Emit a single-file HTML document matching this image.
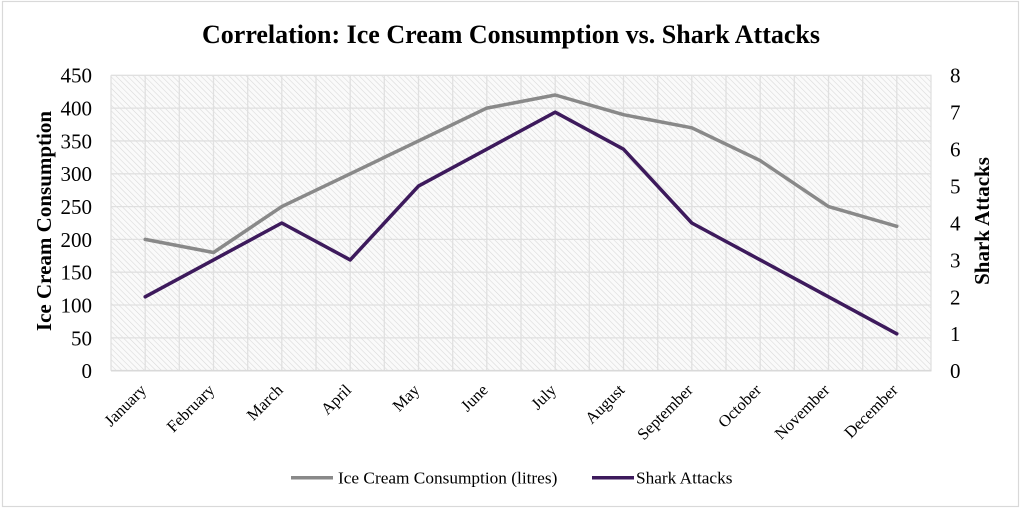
<!DOCTYPE html>
<html><head><meta charset="utf-8"><style>
html,body{margin:0;padding:0;background:#fff;}
svg{display:block;}
text{font-family:"Liberation Serif","Times New Roman",serif;fill:#000;}
</style></head><body>
<svg width="1022" height="508" viewBox="0 0 1022 508" xmlns="http://www.w3.org/2000/svg">
<defs>
<pattern id="hatch" patternUnits="userSpaceOnUse" width="4" height="4" patternTransform="rotate(-45)">
<rect width="4" height="4" fill="#fafafa"/>
<line x1="0" y1="0" x2="0" y2="4" stroke="#d8d8d8" stroke-width="1.1"/>
</pattern>
</defs>
<rect x="0" y="0" width="1022" height="508" fill="#fff"/>
<rect x="2.5" y="1.5" width="1016" height="505" fill="none" stroke="#d9d9d9" stroke-width="1.2"/>
<text x="511" y="43" font-size="26" font-weight="bold" text-anchor="middle">Correlation: Ice Cream Consumption vs. Shark Attacks</text>
<rect x="111" y="75.3" width="820.5" height="295.4" fill="url(#hatch)"/>
<g stroke="#e0e0e0" stroke-width="1.3">
<line x1="111" y1="75.3" x2="931.5" y2="75.3"/>
<line x1="111" y1="108.1" x2="931.5" y2="108.1"/>
<line x1="111" y1="140.95" x2="931.5" y2="140.95"/>
<line x1="111" y1="173.8" x2="931.5" y2="173.8"/>
<line x1="111" y1="206.6" x2="931.5" y2="206.6"/>
<line x1="111" y1="239.4" x2="931.5" y2="239.4"/>
<line x1="111" y1="272.2" x2="931.5" y2="272.2"/>
<line x1="111" y1="305.0" x2="931.5" y2="305.0"/>
<line x1="111" y1="337.9" x2="931.5" y2="337.9"/>
<line x1="111" y1="75.3" x2="111" y2="370.7"/>
<line x1="145.2" y1="75.3" x2="145.2" y2="370.7"/>
<line x1="179.3" y1="75.3" x2="179.3" y2="370.7"/>
<line x1="213.5" y1="75.3" x2="213.5" y2="370.7"/>
<line x1="247.7" y1="75.3" x2="247.7" y2="370.7"/>
<line x1="281.8" y1="75.3" x2="281.8" y2="370.7"/>
<line x1="316.0" y1="75.3" x2="316.0" y2="370.7"/>
<line x1="350.2" y1="75.3" x2="350.2" y2="370.7"/>
<line x1="384.3" y1="75.3" x2="384.3" y2="370.7"/>
<line x1="418.5" y1="75.3" x2="418.5" y2="370.7"/>
<line x1="452.7" y1="75.3" x2="452.7" y2="370.7"/>
<line x1="486.8" y1="75.3" x2="486.8" y2="370.7"/>
<line x1="521.0" y1="75.3" x2="521.0" y2="370.7"/>
<line x1="555.2" y1="75.3" x2="555.2" y2="370.7"/>
<line x1="589.3" y1="75.3" x2="589.3" y2="370.7"/>
<line x1="623.5" y1="75.3" x2="623.5" y2="370.7"/>
<line x1="657.7" y1="75.3" x2="657.7" y2="370.7"/>
<line x1="691.8" y1="75.3" x2="691.8" y2="370.7"/>
<line x1="726.0" y1="75.3" x2="726.0" y2="370.7"/>
<line x1="760.2" y1="75.3" x2="760.2" y2="370.7"/>
<line x1="794.3" y1="75.3" x2="794.3" y2="370.7"/>
<line x1="828.5" y1="75.3" x2="828.5" y2="370.7"/>
<line x1="862.7" y1="75.3" x2="862.7" y2="370.7"/>
<line x1="896.8" y1="75.3" x2="896.8" y2="370.7"/>
<line x1="931.0" y1="75.3" x2="931.0" y2="370.7"/>
</g>
<line x1="111" y1="370.7" x2="931.5" y2="370.7" stroke="#d9d9d9" stroke-width="1.6"/>
<g font-size="21" text-anchor="end">
<text x="92" y="82.7">450</text>
<text x="92" y="115.5">400</text>
<text x="92" y="148.4">350</text>
<text x="92" y="181.2">300</text>
<text x="92" y="214.0">250</text>
<text x="92" y="246.8">200</text>
<text x="92" y="279.6">150</text>
<text x="92" y="312.4">100</text>
<text x="92" y="345.3">50</text>
<text x="92" y="378.1">0</text>
</g>
<g font-size="21" text-anchor="start">
<text x="950" y="82.7">8</text>
<text x="950" y="119.6">7</text>
<text x="950" y="156.6">6</text>
<text x="950" y="193.5">5</text>
<text x="950" y="230.4">4</text>
<text x="950" y="267.3">3</text>
<text x="950" y="304.3">2</text>
<text x="950" y="341.2">1</text>
<text x="950" y="378.1">0</text>
</g>
<text transform="translate(51,221) rotate(-90)" font-size="21" font-weight="bold" text-anchor="middle">Ice Cream Consumption</text>
<text transform="translate(989,221) rotate(-90)" font-size="21" font-weight="bold" text-anchor="middle">Shark Attacks</text>
<g font-size="16.5" text-anchor="end">
<text transform="translate(147.2,391) rotate(-45)">January</text>
<text transform="translate(215.5,391) rotate(-45)">February</text>
<text transform="translate(283.8,391) rotate(-45)">March</text>
<text transform="translate(352.2,391) rotate(-45)">April</text>
<text transform="translate(420.5,391) rotate(-45)">May</text>
<text transform="translate(488.8,391) rotate(-45)">June</text>
<text transform="translate(557.2,391) rotate(-45)">July</text>
<text transform="translate(625.5,391) rotate(-45)">August</text>
<text transform="translate(693.8,391) rotate(-45)">September</text>
<text transform="translate(762.2,391) rotate(-45)">October</text>
<text transform="translate(830.5,391) rotate(-45)">November</text>
<text transform="translate(898.8,391) rotate(-45)">December</text>
</g>
<polyline fill="none" stroke="#898989" stroke-width="3.5" stroke-linejoin="round" stroke-linecap="round"
points="145.2,239.4 213.5,252.5 281.8,206.6 350.2,173.8 418.5,140.95 486.8,108.1 555.2,95.0 623.5,114.7 691.8,127.8 760.2,160.6 828.5,206.6 896.8,226.3"/>
<polyline fill="none" stroke="#3d1a5c" stroke-width="3.5" stroke-linejoin="round" stroke-linecap="round"
points="145.2,296.85 213.5,259.9 281.8,223.0 350.2,259.9 418.5,186.1 486.8,149.15 555.2,112.2 623.5,149.15 691.8,223.0 760.2,259.9 828.5,296.85 896.8,333.8"/>
<line x1="291" y1="477.7" x2="333" y2="477.7" stroke="#898989" stroke-width="3.5"/>
<text x="338" y="483.3" font-size="17.3">Ice Cream Consumption (litres)</text>
<line x1="592" y1="477.7" x2="634" y2="477.7" stroke="#3d1a5c" stroke-width="3.5"/>
<text x="636" y="483.3" font-size="17.3">Shark Attacks</text>
</svg>
</body></html>
